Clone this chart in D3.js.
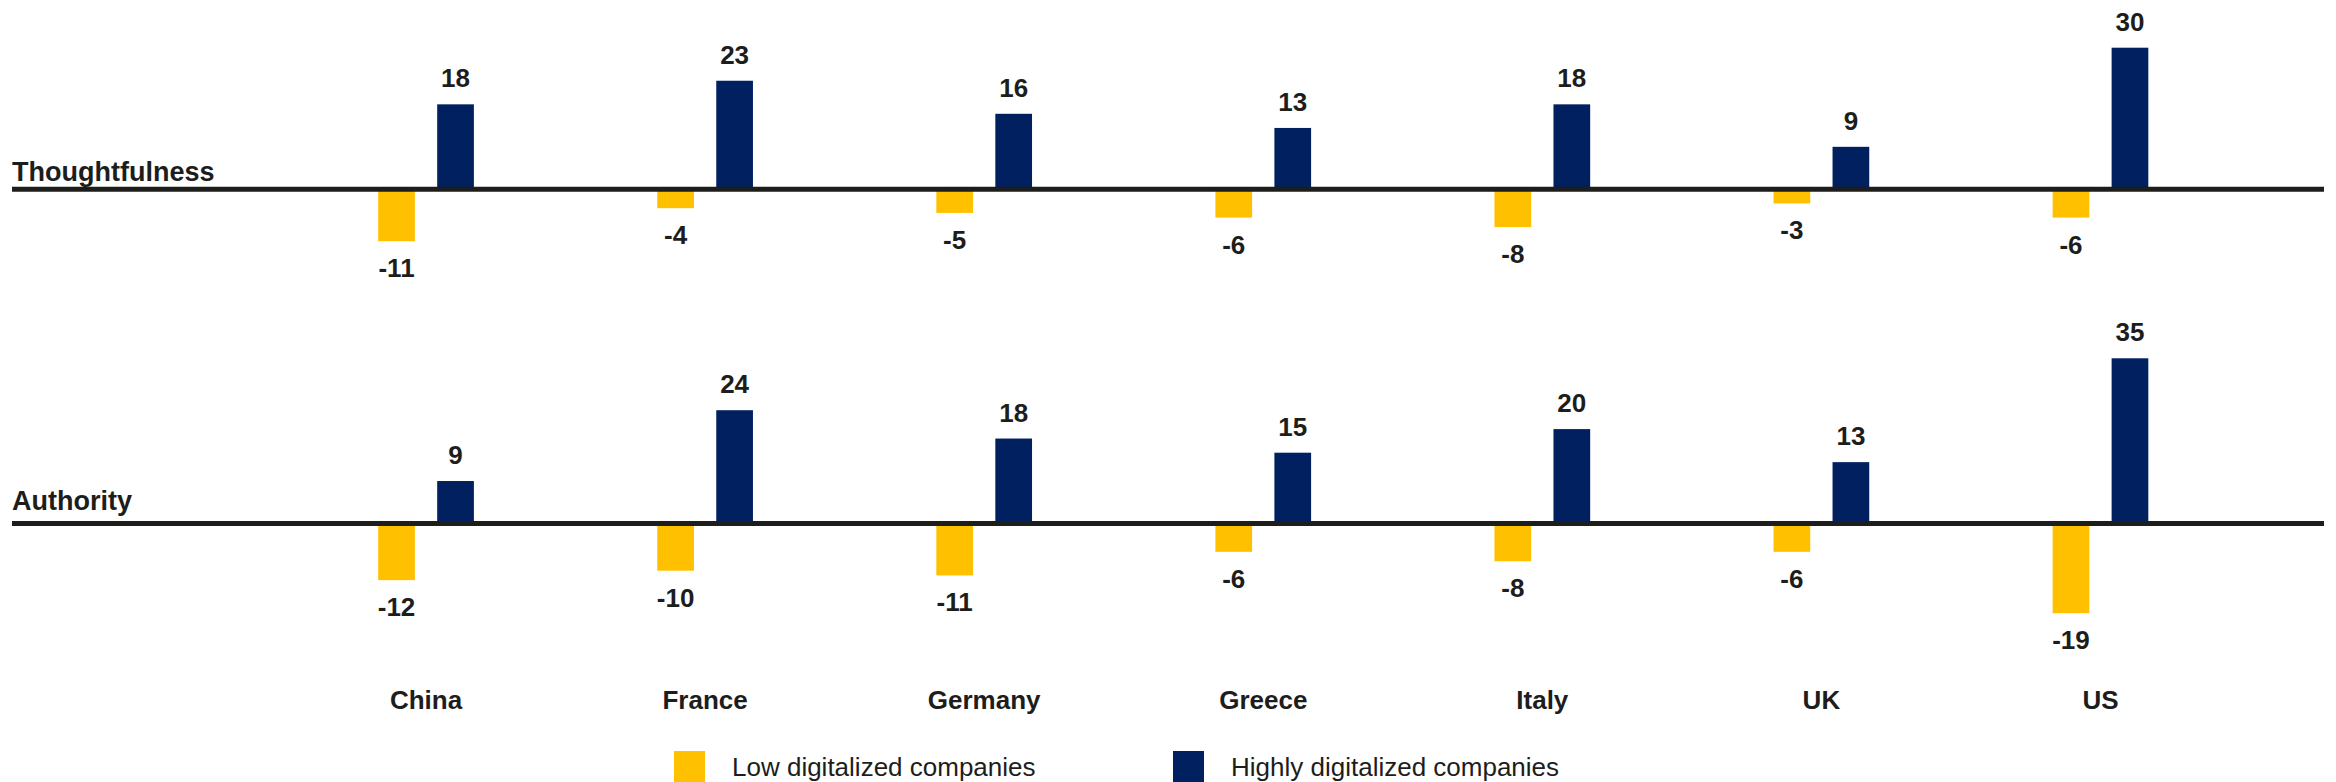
<!DOCTYPE html>
<html>
<head>
<meta charset="utf-8">
<script src="https://cdn.jsdelivr.net/npm/d3@7/dist/d3.min.js"></script>
<style>
  html, body { margin: 0; padding: 0; background: #ffffff; }
  svg { display: block; font-family: "Liberation Sans", Arial, sans-serif; }
</style>
</head>
<body>
<svg id="chart" width="2336" height="782"></svg>
<script>
// Countries along the horizontal axis
const categories = ["China", "France", "Germany", "Greece", "Italy", "UK", "US"];

// The two panels, top to bottom
const rowNames = ["Thoughtfulness", "Authority"];

// Series
const seriesNames = ["Low digitalized companies", "Highly digitalized companies"];
const seriesColors = ["#FFC000", "#002060"];

// Thoughtfulness panel
const thoughtfulnessLow  = [-11, -4, -5, -6, -8, -3, -6];
const thoughtfulnessHigh = [18, 23, 16, 13, 18, 9, 30];

// Authority panel
const authorityLow  = [-12, -10, -11, -6, -8, -6, -19];
const authorityHigh = [9, 24, 18, 15, 20, 13, 35];

const rows = [
  { name: rowNames[0], low: thoughtfulnessLow, high: thoughtfulnessHigh, base: 189.3, labelY: 181 },
  { name: rowNames[1], low: authorityLow,      high: authorityHigh,      base: 523.5, labelY: 510 }
];

const ink = "#1d1d1b";
const svg = d3.select("#chart");

// Country groups
const x = d3.scaleBand()
  .domain(categories)
  .range([286.5, 2240])
  .padding(0);

// Bars inside each group
const xInner = d3.scaleBand()
  .domain(seriesNames)
  .range([-47.85, 47.85])
  .paddingInner(0.378)
  .paddingOuter(0);

const unitPx = 4.72;

rows.forEach(row => {
  const y = d3.scaleLinear()
    .domain([0, 30])
    .range([row.base, row.base - 30 * unitPx]);

  const data = [];
  categories.forEach((c, i) => {
    data.push({ cat: c, series: seriesNames[0], value: row.low[i], color: seriesColors[0] });
    data.push({ cat: c, series: seriesNames[1], value: row.high[i], color: seriesColors[1] });
  });

  const g = svg.append("g");

  g.selectAll("rect.bar")
    .data(data)
    .join("rect")
    .attr("class", "bar")
    .attr("x", d => x(d.cat) + x.bandwidth() / 2 + xInner(d.series))
    .attr("width", xInner.bandwidth())
    .attr("y", d => Math.min(y(d.value), y(0)))
    .attr("height", d => Math.abs(y(d.value) - y(0)))
    .attr("fill", d => d.color);

  g.selectAll("text.val")
    .data(data)
    .join("text")
    .attr("class", "val")
    .attr("x", d => x(d.cat) + x.bandwidth() / 2 + xInner(d.series) + xInner.bandwidth() / 2)
    .attr("y", d => d.value >= 0 ? y(d.value) - 17 : y(d.value) + 36)
    .attr("text-anchor", "middle")
    .attr("font-size", 26)
    .attr("font-weight", "bold")
    .attr("fill", ink)
    .text(d => d.value);

  // Zero line of the panel
  g.append("line")
    .attr("x1", 12)
    .attr("x2", 2324)
    .attr("y1", y(0))
    .attr("y2", y(0))
    .attr("stroke", ink)
    .attr("stroke-width", 5);

  g.append("text")
    .attr("x", 12)
    .attr("y", row.labelY)
    .attr("font-size", 27)
    .attr("font-weight", "bold")
    .attr("fill", ink)
    .text(row.name);
});

// Country labels
svg.append("g")
  .selectAll("text")
  .data(categories)
  .join("text")
  .attr("x", d => x(d) + x.bandwidth() / 2)
  .attr("y", 709)
  .attr("text-anchor", "middle")
  .attr("font-size", 26)
  .attr("font-weight", "bold")
  .attr("fill", ink)
  .text(d => d);

// Legend
const legendX = [674, 1173];
const legend = svg.append("g")
  .selectAll("g")
  .data(seriesNames)
  .join("g")
  .attr("transform", (d, i) => `translate(${legendX[i]},751)`);

legend.append("rect")
  .attr("width", 31)
  .attr("height", 31)
  .attr("fill", (d, i) => seriesColors[i]);

legend.append("text")
  .attr("x", 58)
  .attr("y", 25)
  .attr("font-size", 26)
  .attr("fill", ink)
  .text(d => d);
</script>
</body>
</html>
